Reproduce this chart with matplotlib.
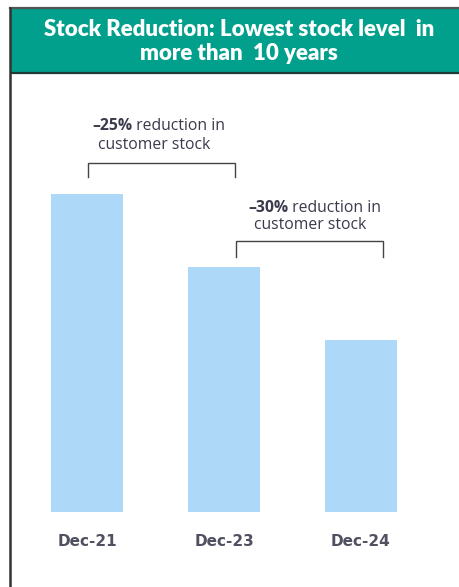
import matplotlib
matplotlib.use("Agg")
import matplotlib.pyplot as plt
from matplotlib.patches import Rectangle
from matplotlib.lines import Line2D

categories = ["Dec-21", "Dec-23", "Dec-24"]
values = [100, 77, 54]
title_lines = ["Stock Reduction: Lowest stock level  in", "more than  10 years"]
ann_bold = ["\u201325%", "\u201330%"]
ann_rest = [" reduction in", " reduction in"]
ann_line2 = ["customer stock", "customer stock"]

W, H = 460, 587
fig = plt.figure(figsize=(W / 100, H / 100), dpi=100)
fig.patch.set_facecolor("white")

def fx(px):
    return px / W

def fy(py):
    return 1 - py / H

teal = "#00A08C"
bar_color = "#AED8F8"
text_color = "#3A3A4C"

# banner and frame
fig.patches.append(Rectangle((fx(11), fy(73)), fx(460) - fx(11), fy(9) - fy(73),
                             transform=fig.transFigure, facecolor=teal, edgecolor="none", zorder=0))
fig.lines.append(Line2D([fx(10), fx(460)], [fy(8), fy(8)], transform=fig.transFigure,
                        color="#555555", lw=1.6))
fig.lines.append(Line2D([fx(11), fx(460)], [fy(72.5), fy(72.5)], transform=fig.transFigure,
                        color="#1f3b36", lw=1.6))
fig.lines.append(Line2D([fx(10.5), fx(10.5)], [fy(8), fy(587)], transform=fig.transFigure,
                        color="#333333", lw=1.8))

fig.text(fx(239), fy(29), title_lines[0], ha="center", va="center", color="white",
         fontsize=16, fontweight="heavy", family="Lato")
fig.text(fx(239), fy(53), title_lines[1], ha="center", va="center", color="white",
         fontsize=16, fontweight="heavy", family="Lato")

# axes
ax_left, ax_right, ax_top, ax_bottom = 12, 460, 74, 587
ax = fig.add_axes([fx(ax_left), 0, fx(ax_right) - fx(ax_left), fy(ax_top)])
ax.set_facecolor("none")
unit = 137.0
ax.set_xlim(-(87 - ax_left) / unit, -(87 - ax_left) / unit + (ax_right - ax_left) / unit)
scale = 318.0 / 100
ax.set_ylim(-(ax_bottom - 512) / scale, (512 - ax_top) / scale)
for s in ax.spines.values():
    s.set_visible(False)
ax.set_xticks([])
ax.set_yticks([])

xs = list(range(len(categories)))
ax.bar(xs, values, width=72 / unit, color=bar_color, edgecolor="none")

for x, c in zip(xs, categories):
    ax.text(x, -(541 - 512) / scale, c, ha="center", va="center", fontsize=11,
            fontweight="bold", color="#505060", family="DejaVu Sans")

def px2x(px):
    return (px - 87) / unit

def py2y(py):
    return (512 - py) / scale

# brackets
brackets = [(88, 235, 163, 177), (236, 383, 241, 257)]
for (x0, x1, ytop, ybot) in brackets:
    ax.plot([px2x(x0), px2x(x0), px2x(x1), px2x(x1)],
            [py2y(ybot), py2y(ytop), py2y(ytop), py2y(ybot)],
            color="#444444", lw=1.0, solid_joinstyle="miter")

ann_pos = [(92, 126, 154, 145), (248, 208, 310, 225)]
for i, (bx, by, cx, cy) in enumerate(ann_pos):
    t = ax.text(px2x(bx), py2y(by), ann_bold[i], ha="left", va="center", fontsize=11.3,
                fontweight="bold", color=text_color, family="Open Sans")
    ax.annotate(ann_rest[i], xy=(1, 0.5), xycoords=t, ha="left", va="center",
                fontsize=11.3, color=text_color, family="Open Sans")
    ax.text(px2x(cx), py2y(cy), ann_line2[i], ha="center", va="center", fontsize=11.3,
            color=text_color, family="Open Sans")

fig.savefig("out.png", dpi=100)
